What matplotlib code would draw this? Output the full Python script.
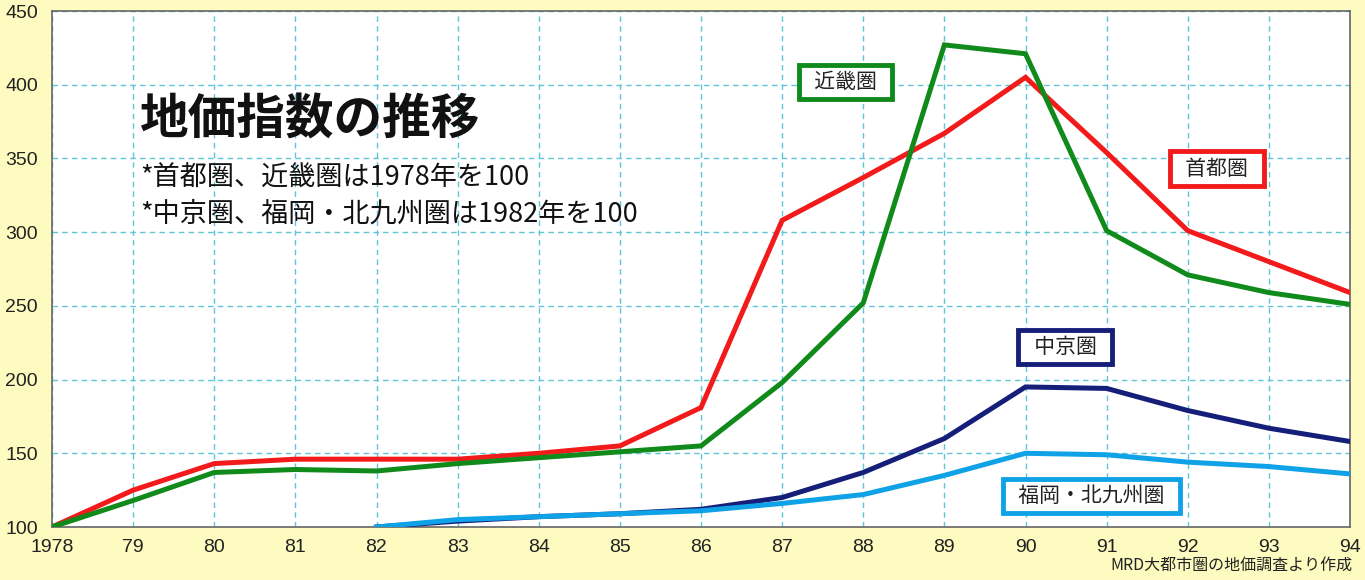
import matplotlib
matplotlib.use("Agg")
import matplotlib.pyplot as plt

plt.rcParams['font.family'] = ['Noto Sans CJK JP', 'DejaVu Sans']

# --- Daten ---
years = list(range(1978, 1995))
tick_labels = ["1978"] + [str(y % 100) for y in years[1:]]

shutoken = [100, 125, 143, 146, 146, 146, 150, 155, 181, 308, 337, 367, 405, 354, 301, 280, 259]
kinki = [100, 118, 137, 139, 138, 143, 147, 151, 155, 198, 252, 427, 421, 301, 271, 259, 251]
years_82 = years[4:]
chukyo = [100, 104, 107, 109, 112, 120, 137, 160, 195, 194, 179, 167, 158]
fukuoka = [100, 105, 107, 109, 111, 116, 122, 135, 150, 149, 144, 141, 136]

series = [
    ("首都圏", years, shutoken, "#f21a1a", (1992.36, 343)),
    ("近畿圏", years, kinki, "#118a1c", (1987.78, 402)),
    ("中京圏", years_82, chukyo, "#151f7a", (1990.49, 222)),
    ("福岡・北九州圏", years_82, fukuoka, "#10a2e6", (1990.81, 121)),
]

bg = "#fdfbbf"
fig = plt.figure(figsize=(13.65, 5.8), dpi=100, facecolor=bg)
ax = fig.add_axes([52 / 1365, 53 / 580, 1298 / 1365, 516 / 580])
ax.set_facecolor("white")

for name, xs, ys, col, pos in series:
    ax.plot(xs, ys, color=col, lw=3.6, solid_joinstyle='miter', zorder=3)
    ax.text(pos[0], pos[1], "  " + name + "  ", ha="center", va="center", fontsize=15,
            color="#222222", zorder=5,
            bbox=dict(boxstyle="square,pad=0.3", fc="white", ec=col, lw=3.5))

ax.set_xlim(1978, 1994)
ax.set_ylim(100, 450)
ax.set_xticks(years)
ax.set_xticklabels(tick_labels, family="Liberation Sans")
ax.set_yticks(range(100, 451, 50))
for lab in ax.get_yticklabels():
    lab.set_family("Liberation Sans")
ax.tick_params(length=0, labelsize=14, colors="#222222")
ax.tick_params(axis="x", pad=9)
ax.tick_params(axis="y", pad=10)
ax.grid(True, color="#5ec6d6", lw=1.0, linestyle=(0, (4, 3)))
for s in ax.spines.values():
    s.set_color("#666666")
    s.set_linewidth(1.2)

# Titel und Anmerkungen
fig.text(140 / 1365, 1 - 120 / 580, "地価指数の推移", fontsize=35, fontweight="bold",
         va="center", ha="left", color="#111111")
fig.text(140 / 1365, 1 - 178 / 580, "*首都圏、近畿圏は1978年を100", fontsize=19.5,
         va="center", ha="left", color="#111111")
fig.text(140 / 1365, 1 - 214 / 580, "*中京圏、福岡・北九州圏は1982年を100", fontsize=19.5,
         va="center", ha="left", color="#111111")
fig.text(1352 / 1365, 1 - 565 / 580, "MRD大都市圏の地価調査より作成", fontsize=11.5,
         va="center", ha="right", color="#222222")

fig.savefig("out.png", dpi=100, facecolor=bg)
